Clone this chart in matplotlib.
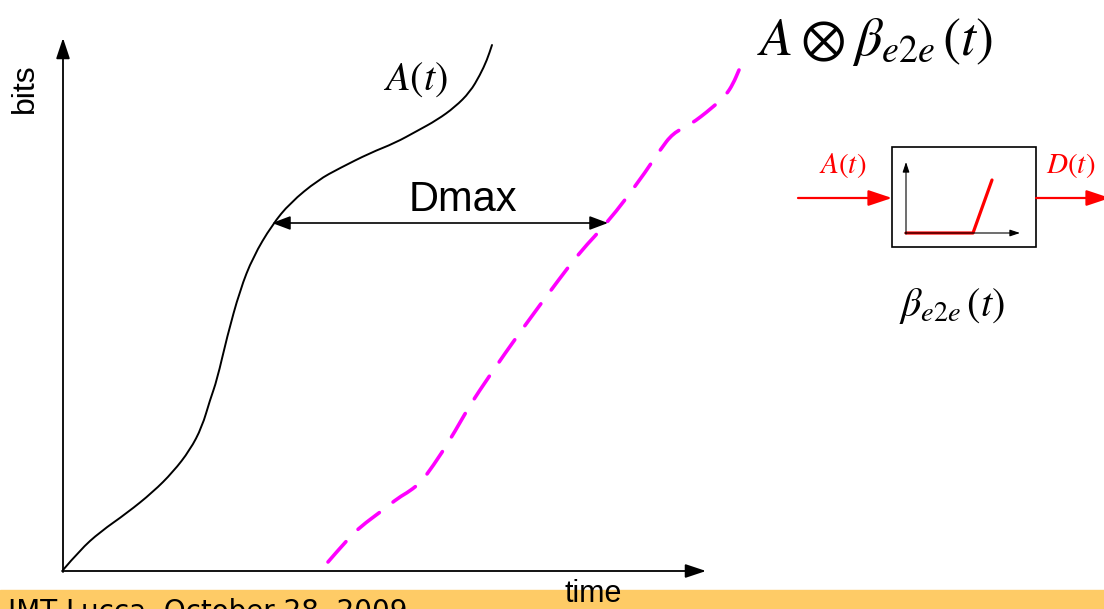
import numpy as np
import matplotlib.pyplot as plt
from matplotlib.patches import Rectangle, PathPatch
from matplotlib.path import Path

plt.rcParams['mathtext.fontset'] = 'stix'
plt.rcParams['font.family'] = ['Liberation Sans', 'DejaVu Sans']

# arrival curve A(t) (pixel coords, y down)
arr_x = [63, 80, 100, 127, 153, 173, 190, 202, 210, 217, 227, 240, 253, 272,
         290, 318, 340, 370, 395, 417, 437, 455, 470, 480, 487, 492]
arr_y = [570, 550, 532, 513, 492, 472, 450, 427, 400, 380, 337, 290, 257, 225,
         203, 180, 168, 153, 143, 131, 120, 107, 92, 75, 60, 45]

# delayed curve A (x) beta_e2e (t)
dep_x = [328, 347, 360, 383, 398, 410, 421, 433, 450, 470, 490, 520, 560, 580,
         608, 640, 660, 673, 690, 712, 726, 733, 739]
dep_y = [562, 540, 527, 510, 498, 491, 482, 466, 440, 405, 375, 332, 278, 252,
         222, 180, 150, 133, 125, 108, 95, 84, 70]

# service curve sketch inside the box
svc_x = [906, 973, 992]
svc_y = [233, 233, 180]

footer = 'IMT Lucca, October 28, 2009'


def smooth_path(xs, ys):
    # quadratic bezier through the midpoints, points used as control points
    pts = np.column_stack([xs, ys]).astype(float)
    verts = [pts[0]]
    codes = [Path.MOVETO]
    for i in range(1, len(pts) - 1):
        verts += [pts[i], (pts[i] + pts[i + 1]) / 2]
        codes += [Path.CURVE3, Path.CURVE3]
    verts.append(pts[-1])
    codes.append(Path.LINETO)
    return Path(verts, codes)


fig = plt.figure(figsize=(11.04, 6.09), dpi=100)
ax = fig.add_axes([0, 0, 1, 1])
ax.set_xlim(0, 1104)
ax.set_ylim(609, 0)
ax.axis('off')

# footer band
ax.add_patch(Rectangle((0, 590), 1104, 20, color='#FECB66', zorder=0))
ax.text(8, 598, footer, fontsize=20, va='top', ha='left', family='DejaVu Sans')

# main axes
ax.annotate('', xy=(63, 38), xytext=(63, 572),
            arrowprops=dict(arrowstyle='-|>,head_length=0.9,head_width=0.3',
                            mutation_scale=14, lw=1.3, color='black', shrinkA=0, shrinkB=0))
ax.annotate('', xy=(706, 571), xytext=(62, 571),
            arrowprops=dict(arrowstyle='-|>,head_length=0.9,head_width=0.3',
                            mutation_scale=14, lw=1.3, color='black', shrinkA=0, shrinkB=0))
ax.text(25, 88, 'bits', rotation=90, fontsize=23, ha='center', va='center')
ax.text(593, 594, 'time', fontsize=22, ha='center', va='center')

# curves
ax.add_patch(PathPatch(smooth_path(arr_x, arr_y), fill=False, ec='black',
                       lw=1.4, capstyle='round'))
ax.add_patch(PathPatch(smooth_path(dep_x, dep_y), fill=False, ec='#FF00FF',
                       lw=2.6, linestyle=(0, (7.5, 4.8)), capstyle='round'))

# Dmax
ax.annotate('', xy=(272, 223), xytext=(608, 223),
            arrowprops=dict(arrowstyle='<|-|>,head_length=0.8,head_width=0.3',
                            mutation_scale=14, lw=1.2, color='black', shrinkA=0, shrinkB=0))
ax.text(463, 200, 'Dmax', fontsize=30, ha='center', va='center')

ax.text(415, 80, r'$A(t)$', fontsize=29, ha='center', va='center')
ax.text(757, 42, r'$A\otimes\beta_{e2e}\,(t)$', fontsize=39, ha='left', va='center')

# service element box
ax.add_patch(Rectangle((892, 147), 144, 100, fill=False, ec='black', lw=1.2))
ax.annotate('', xy=(906, 162), xytext=(906, 234),
            arrowprops=dict(arrowstyle='-|>,head_length=0.6,head_width=0.2',
                            mutation_scale=10, lw=0.8, color='black', shrinkA=0, shrinkB=0))
ax.annotate('', xy=(1020, 233), xytext=(905, 233),
            arrowprops=dict(arrowstyle='-|>,head_length=0.6,head_width=0.2',
                            mutation_scale=10, lw=0.8, color='black', shrinkA=0, shrinkB=0))
ax.plot(svc_x, svc_y, color='red', lw=2.3, solid_capstyle='round')

ax.annotate('', xy=(892, 198), xytext=(798, 198),
            arrowprops=dict(arrowstyle='-|>,head_length=0.9,head_width=0.3',
                            mutation_scale=16, lw=1.6, color='red', shrinkA=0, shrinkB=0))
ax.annotate('', xy=(1110, 198), xytext=(1036, 198),
            arrowprops=dict(arrowstyle='-|>,head_length=0.9,head_width=0.3',
                            mutation_scale=16, lw=1.6, color='red', shrinkA=0, shrinkB=0),
            annotation_clip=False)
ax.text(843, 166, r'$A(t)$', fontsize=21, color='red', ha='center', va='center')
ax.text(1046, 166, r'$D(t)$', fontsize=21, color='red', ha='left', va='center')
ax.text(952, 306, r'$\beta_{e2e}\,(t)$', fontsize=29, ha='center', va='center')

fig.savefig('out.png', dpi=100)
